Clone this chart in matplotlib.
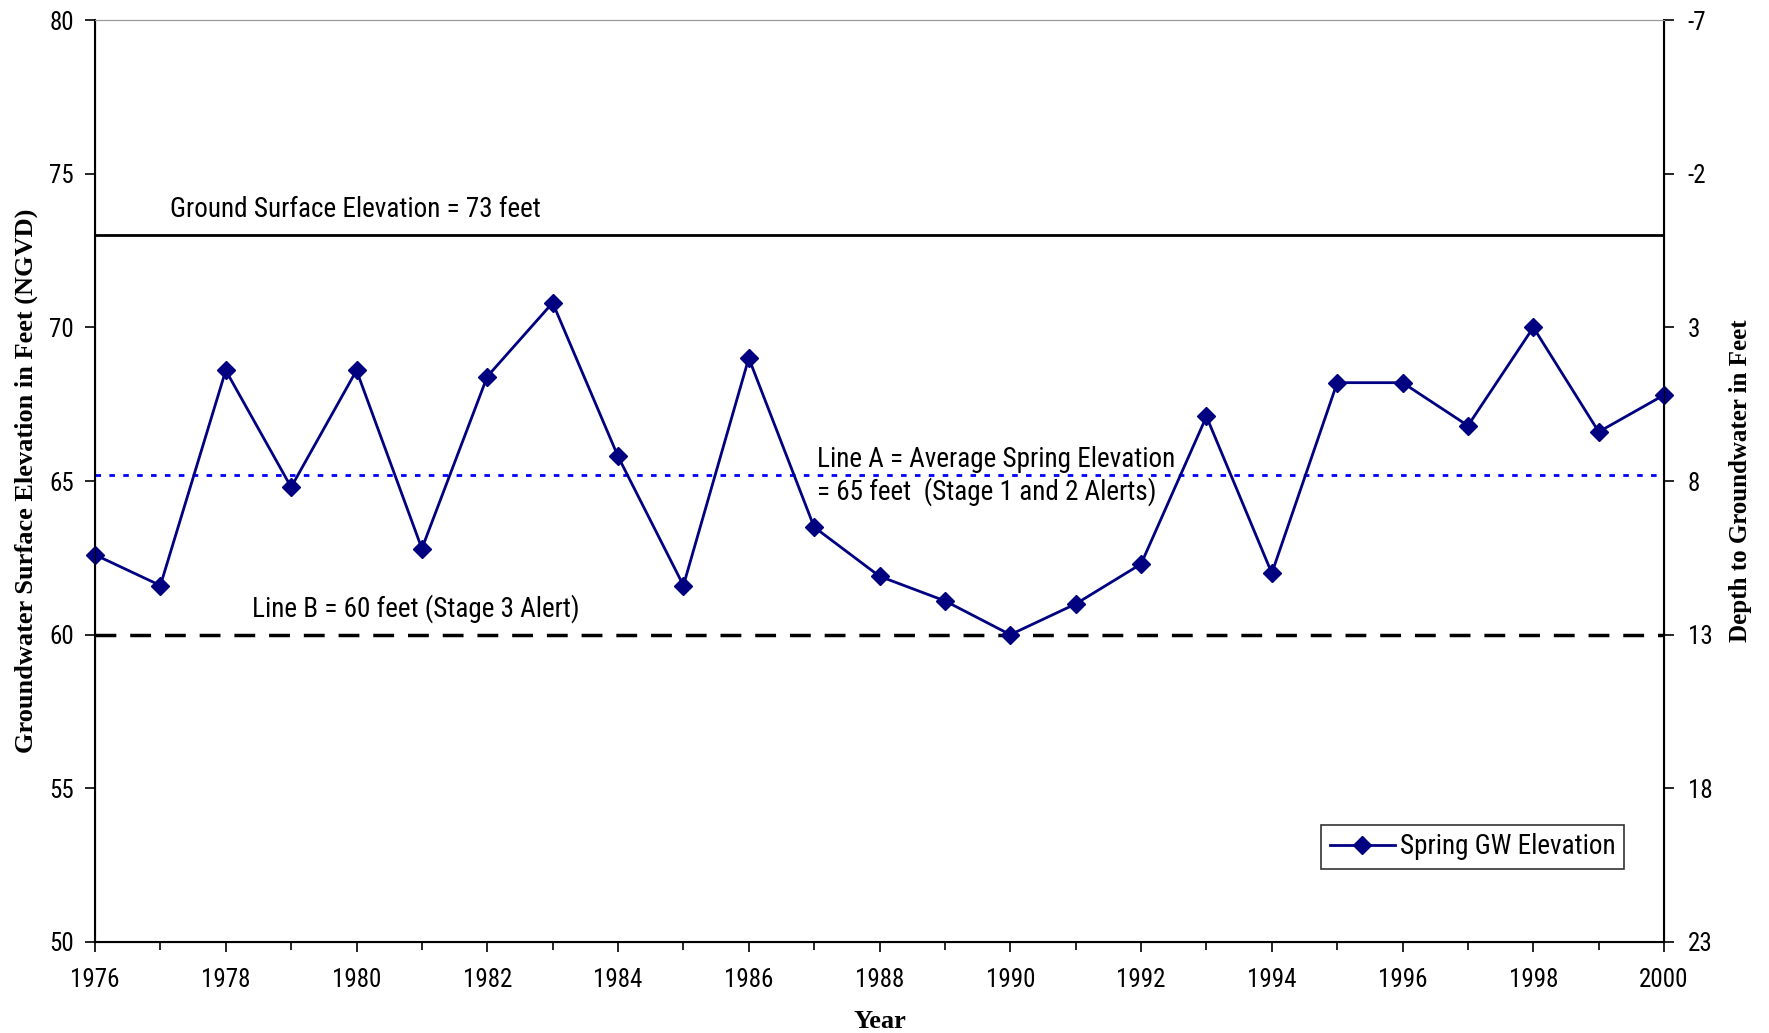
import matplotlib.pyplot as plt
import numpy as np

years = [1976, 1977, 1978, 1979, 1980, 1981, 1982, 1983, 1984, 1985, 1986, 1987,
         1988, 1989, 1990, 1991, 1992, 1993, 1994, 1995, 1996, 1997, 1998, 1999, 2000]
spring_gw = [62.6, 61.6, 68.6, 64.8, 68.6, 62.8, 68.4, 70.8, 65.8, 61.6, 69.0, 63.5,
             61.9, 61.1, 60.0, 61.0, 62.3, 67.1, 62.0, 68.2, 68.2, 66.8, 70.0, 66.6, 67.8]
ground_surface = 73
line_a = 65.2
line_b = 60
x_labels = list(range(1976, 2001, 2))
y_left = [50, 55, 60, 65, 70, 75, 80]

plt.rcParams['font.family'] = ['Roboto Condensed', 'IBM Plex Sans Condensed', 'DejaVu Sans']
plt.rcParams['axes.unicode_minus'] = False

fig = plt.figure(figsize=(17.69, 10.33), dpi=100)
ax = fig.add_axes([0.0537, 0.0881, 0.887, 0.8925])

ax.axhline(ground_surface, color='black', lw=2)
ax.axhline(line_a, color='#0000ff', lw=2, ls=(0, (2, 3)))
ax.axhline(line_b, color='black', lw=2.5, ls=(0, (6, 4)))
ax.plot(years, spring_gw, color='#000080', lw=2, marker='D', ms=9,
        label='Spring GW Elevation', clip_on=False, zorder=5)

ax.text(1977.15, 73.85, 'Ground Surface Elevation = 73 feet', fontsize=19.5, va='center')
ax.text(1987.05, 65.7, 'Line A = Average Spring Elevation', fontsize=19.5, va='center')
ax.text(1987.05, 64.65, '= 65 feet  (Stage 1 and 2 Alerts)', fontsize=19.5, va='center')
ax.text(1978.4, 60.85, 'Line B = 60 feet (Stage 3 Alert)', fontsize=19.5, va='center')

ax.set_xlim(1976, 2000)
ax.set_ylim(50, 80)
ax.set_xticks(x_labels)
ax.set_xticks(years, minor=True)
ax.set_yticks(y_left)
ax.tick_params(axis='both', which='major', labelsize=18, direction='out', length=7, width=1.2, pad=8)
ax.tick_params(axis='x', which='major', pad=12)
ax.tick_params(axis='x', which='minor', direction='out', length=6, width=1.2)

ax.spines['top'].set_color('#999999')
for s in ['left', 'bottom', 'right']:
    ax.spines[s].set_linewidth(1.5)

ax.set_xlabel('Year', fontsize=19, fontweight='bold', family='Liberation Serif', labelpad=13)
ax.set_ylabel('Groundwater Surface Elevation in Feet (NGVD)', fontsize=19,
              fontweight='bold', family='Liberation Serif', labelpad=8)

ax2 = ax.twinx()
ax2.set_ylim(ground_surface - 50, ground_surface - 80)
ax2.set_yticks([ground_surface - v for v in y_left])
ax2.tick_params(axis='y', labelsize=18, direction='out', length=7, width=1.2, pad=10)
ax2.spines['top'].set_color('#999999')
ax2.set_ylabel('Depth to Groundwater in Feet', fontsize=18, fontweight='bold',
               family='Liberation Serif', labelpad=12)

leg = ax.legend(loc='lower left', bbox_to_anchor=(0.773, 0.065), fontsize=19.5,
                frameon=True, fancybox=False, edgecolor='black', borderpad=0.3,
                handlelength=2.4, handletextpad=0.2)
leg.get_frame().set_linewidth(1.2)

fig.savefig('out.png', dpi=100)
